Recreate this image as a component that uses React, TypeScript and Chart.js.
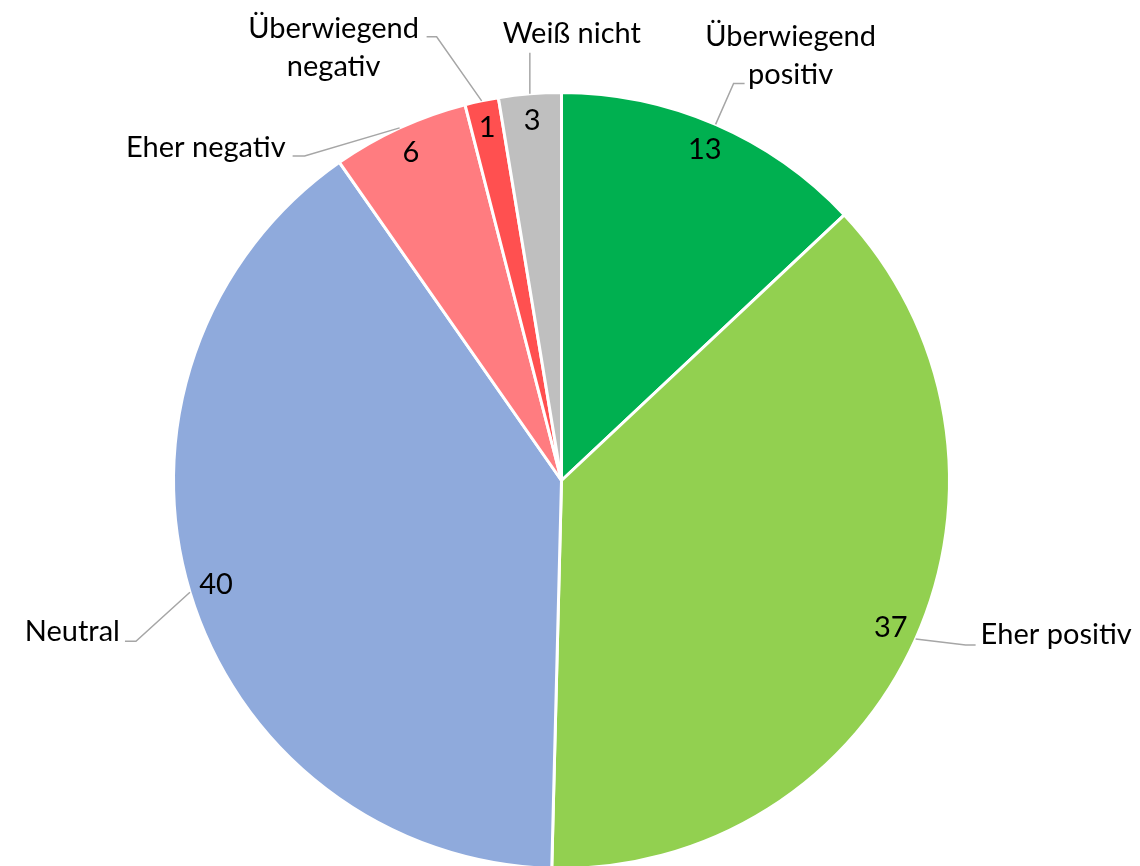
import React, { useEffect, useRef } from "react";
import { Chart, registerables } from "chart.js";

Chart.register(...registerables);

const categories = [
  "Überwiegend positiv",
  "Eher positiv",
  "Neutral",
  "Eher negativ",
  "Überwiegend negativ",
  "Weiß nicht",
];
const values = [13.0, 37.4, 39.9, 5.7, 1.4, 2.6];
const colors = ["#00B050", "#92D050", "#8FAADC", "#FF7C80", "#FF5050", "#BFBFBF"];

// Label layout: offsets relative to the point where the leader line leaves the slice edge
const labelLines = [
  ["Überwiegend", "positiv"],
  ["Eher positiv"],
  ["Neutral"],
  ["Eher negativ"],
  ["Überwiegend", "negativ"],
  ["Weiß nicht"],
];
const labelLayout = [
  { elbow: [18, -41], hend: [29, -41], text: [75, -88], align: "center" },
  { elbow: [50, 6], hend: [60, 6], text: [65, -4], align: "left" },
  { elbow: [-54, 49], hend: [-65, 49], text: [-70, 39], align: "right" },
  { elbow: [-95, 28], hend: [-107, 28], text: [-114, 20], align: "right" },
  { elbow: [-45, -64], hend: [-55, -64], text: [-148, -72], align: "center" },
  { elbow: [0, -41], hend: [0, -41], text: [42, -60], align: "center" },
];

const FONT = "29px Lato";
const LINE_H = 38;

const labelPlugin = {
  id: "pieLabels",
  afterDatasetsDraw(chart: any) {
    const ctx = chart.ctx;
    const meta = chart.getDatasetMeta(0);
    ctx.save();
    ctx.font = FONT;
    ctx.textBaseline = "middle";
    meta.data.forEach((arc: any, i: number) => {
      const { x, y, startAngle, endAngle, outerRadius } = arc.getProps(
        ["x", "y", "startAngle", "endAngle", "outerRadius"],
        true
      );
      const mid = (startAngle + endAngle) / 2;
      // value label
      const rv = outerRadius * 0.93;
      ctx.fillStyle = "#000000";
      ctx.textAlign = "center";
      ctx.fillText(String(Math.round(values[i])), x + Math.cos(mid) * rv, y + Math.sin(mid) * rv);
      // leader line
      const sx = x + Math.cos(mid) * outerRadius;
      const sy = y + Math.sin(mid) * outerRadius;
      const L = labelLayout[i];
      ctx.strokeStyle = "#A6A6A6";
      ctx.lineWidth = 1.5;
      ctx.beginPath();
      ctx.moveTo(sx, sy);
      ctx.lineTo(sx + L.elbow[0], sy + L.elbow[1]);
      ctx.lineTo(sx + L.hend[0], sy + L.hend[1]);
      ctx.stroke();
      // category label
      ctx.textAlign = L.align as CanvasTextAlign;
      const lines = labelLines[i];
      lines.forEach((t, k) => {
        ctx.fillText(t, sx + L.text[0], sy + L.text[1] + k * LINE_H);
      });
    });
    ctx.restore();
  },
};

export default function App() {
  const ref = useRef<HTMLCanvasElement | null>(null);
  useEffect(() => {
    if (!ref.current) return;
    const chart = new Chart(ref.current, {
      type: "pie",
      data: {
        labels: categories,
        datasets: [
          {
            data: values,
            backgroundColor: colors,
            borderColor: "#FFFFFF",
            borderWidth: 3,
          },
        ],
      },
      options: {
        responsive: false,
        animation: false,
        events: [],
        layout: { padding: { top: 91, bottom: 10, left: 172, right: 189 } },
        plugins: {
          legend: { display: false },
          tooltip: { enabled: false },
        },
      },
      plugins: [labelPlugin],
    });
    return () => chart.destroy();
  }, []);
  return (
    <div
      style={{
        position: "fixed",
        left: 0,
        top: 0,
        width: 1140,
        height: 866,
        overflow: "hidden",
        background: "#FFFFFF",
      }}
    >
      <canvas ref={ref} width={1140} height={880} style={{ display: "block" }} />
    </div>
  );
}
